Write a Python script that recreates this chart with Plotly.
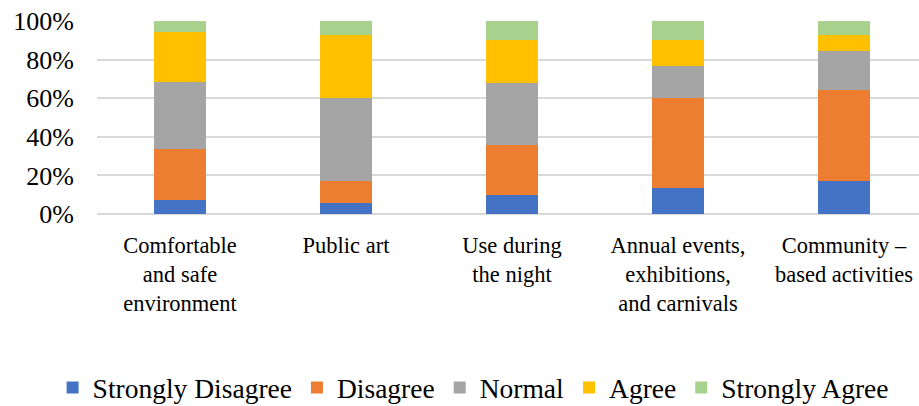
import plotly.graph_objects as go

categories = [
    "Comfortable<br>and safe<br>environment",
    "Public art",
    "Use during<br>the night",
    "Annual events,<br>exhibitions,<br>and carnivals",
    "Community –<br>based activities",
]
series_names = ["Strongly Disagree", "Disagree", "Normal", "Agree", "Strongly Agree"]
strongly_disagree = [7.5, 5.5, 10.0, 13.5, 17.0]
disagree = [26.0, 11.5, 26.0, 46.5, 47.0]
normal = [35.0, 43.0, 32.0, 16.5, 20.5]
agree = [26.0, 32.5, 22.0, 13.5, 8.0]
strongly_agree = [5.5, 7.5, 10.0, 10.0, 7.5]
colors = ["#4472C4", "#ED7D31", "#A5A5A5", "#FFC000", "#A9D18E"]
y_ticks = [0, 20, 40, 60, 80, 100]
y_tick_labels = ["0%", "20%", "40%", "60%", "80%", "100%"]

series_values = [strongly_disagree, disagree, normal, agree, strongly_agree]

fig = go.Figure()
for name, vals, col in zip(series_names, series_values, colors):
    fig.add_trace(go.Bar(
        x=categories, y=vals, name=name,
        marker=dict(color=col, line=dict(width=0)),
    ))

serif = "Liberation Serif"
fig.update_layout(
    barmode="stack",
    barnorm="percent",
    bargap=0.69,
    width=919, height=406,
    margin=dict(l=97, r=0, t=21, b=192, autoexpand=False),
    paper_bgcolor="white",
    plot_bgcolor="white",
    font=dict(family=serif, color="#000000"),
    showlegend=True,
    legend=dict(
        orientation="h",
        x=-0.054, xanchor="left",
        y=-0.90, yanchor="middle",
        font=dict(family=serif, size=27.5, color="#000000"),
        traceorder="normal",
        itemwidth=30,
    ),
)
fig.update_xaxes(
    range=[-0.5, 4.452],
    tickfont=dict(family=serif, size=22.5, color="#000000"),
    showline=False,
    showgrid=False,
    ticks="",
    ticklabelstandoff=15,
    automargin=False,
)
fig.update_yaxes(
    range=[0, 100],
    tickvals=y_ticks,
    ticktext=y_tick_labels,
    tickfont=dict(family=serif, size=26, color="#000000"),
    showgrid=True,
    gridcolor="#D9D9D9",
    gridwidth=1.5,
    zeroline=True,
    zerolinecolor="#D9D9D9",
    zerolinewidth=1.5,
    ticklabelstandoff=22,
    automargin=False,
)

fig.write_html("out.html")
